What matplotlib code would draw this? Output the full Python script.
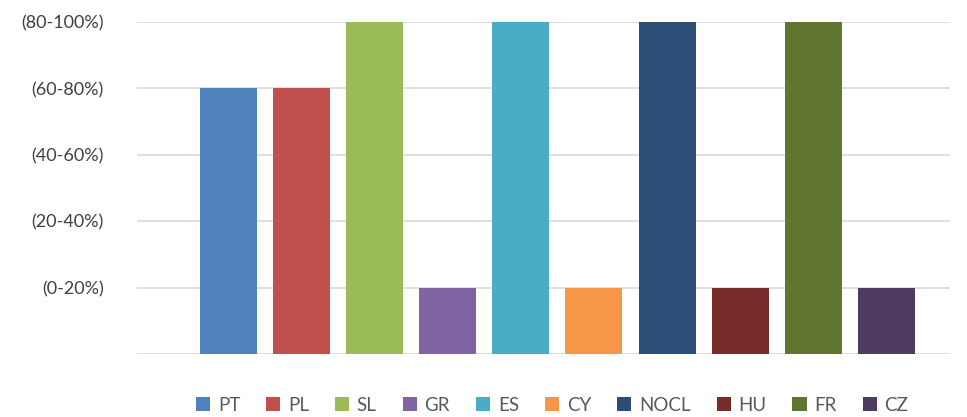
import matplotlib
matplotlib.use("Agg")
import matplotlib.pyplot as plt
from matplotlib.patches import Patch

countries = ["PT", "PL", "SL", "GR", "ES", "CY", "NOCL", "HU", "FR", "CZ"]
levels = [4, 4, 5, 1, 5, 1, 5, 1, 5, 1]
level_labels = ["", "(0-20%)", "(20-40%)", "(40-60%)", "(60-80%)", "(80-100%)"]
colors = ["#4F81BD", "#C0504D", "#9BBB59", "#8064A2", "#4BACC6",
          "#F79646", "#2C4D75", "#772C2A", "#5F7530", "#4D3B62"]

plt.rcParams['font.family'] = ['Lato', 'DejaVu Sans']

fig = plt.figure(figsize=(9.67, 4.17), dpi=100)
ax = fig.add_axes([0.1417, 0.151, 0.8407, 0.796])

x = list(range(len(countries)))
ax.bar(x, levels, width=0.78, color=colors, zorder=3)

ax.set_ylim(0, 5)
ax.set_xlim(-1.25, 9.87)
ax.set_yticks(range(6))
ax.set_yticklabels(level_labels, fontsize=13, color="#404040")
ax.tick_params(axis='y', length=0, pad=24)
ax.set_xticks([])
ax.yaxis.grid(True, color="#D9D9D9", linewidth=1.2, zorder=0)
for s in ax.spines.values():
    s.set_visible(False)

handles = [Patch(facecolor=c, label=n) for c, n in zip(colors, countries)]
fig.legend(handles=handles, loc="center", bbox_to_anchor=(0.571, 0.028),
           ncol=10, frameon=False, fontsize=13.5, labelcolor="#595959",
           handlelength=0.75, handleheight=0.75, handletextpad=0.4,
           columnspacing=1.4)

fig.savefig("out.png", dpi=100)
